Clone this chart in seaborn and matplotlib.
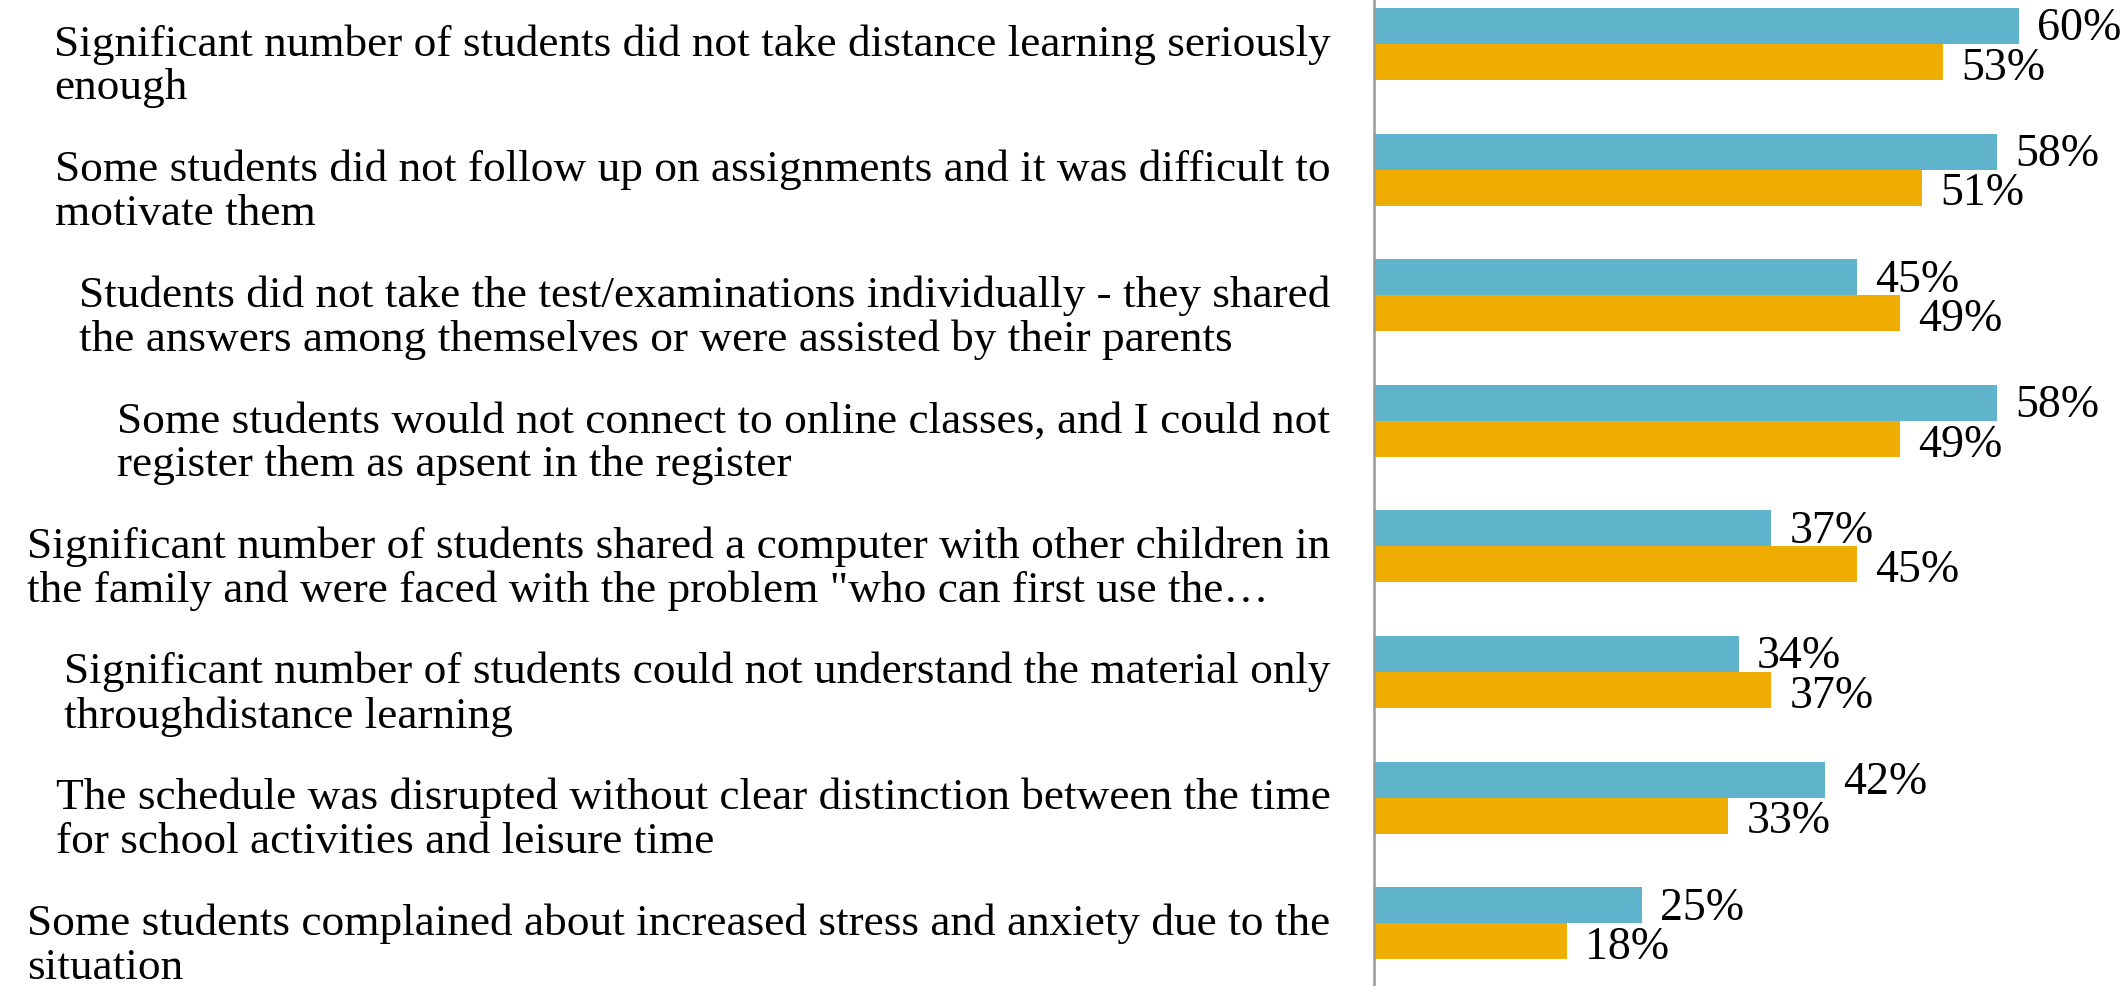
"""Problems with distance learning — grouped horizontal bars"""

import pandas as pd
import matplotlib
matplotlib.use('Agg')
import matplotlib.pyplot as plt
import matplotlib.transforms as mtransforms
import seaborn as sns


categories = [
    'Significant number of students did not take distance learning seriously\nenough',
    'Some students did not follow up on assignments and it was difficult to\nmotivate them',
    'Students did not take the test/examinations individually - they shared\nthe answers among themselves or were assisted by their parents',
    'Some students would not connect to online classes, and I could not\nregister them as apsent in the register',
    'Significant number of students shared a computer with other children in\nthe family and were faced with the problem "who can first use the\u2026',
    'Significant number of students could not understand the material only\nthroughdistance learning',
    'The schedule was disrupted without clear distinction between the time\nfor school activities and leisure time',
    'Some students complained about increased stress and anxiety due to the\nsituation',
]
series_names = ['Series 1', 'Series 2']
values_blue = [60, 58, 45, 58, 37, 34, 42, 25]
values_orange = [53, 51, 49, 49, 45, 37, 33, 18]
colors = ['#5FB4CC', '#EEAD00']

df = pd.DataFrame({
    'category': categories * 2,
    'series': [series_names[0]] * len(categories) + [series_names[1]] * len(categories),
    'value': values_blue + values_orange,
})

sns.set_style('white')
plt.rcParams['font.family'] = ['Liberation Serif', 'DejaVu Serif']

fig = plt.figure(figsize=(21.23, 9.87), dpi=100)
ax = fig.add_axes([1373.5 / 2123, 0, 1 - 1373.5 / 2123, 1])

sns.barplot(data=df, y='category', x='value', hue='series', palette=colors,
            orient='h', width=0.573, gap=0, legend=False, ax=ax, saturation=1,
            linewidth=0, edgecolor='none')

ax.set_xlim(0, 69.7)
ax.set_ylim(7.50, -0.358)
ax.set_xlabel(''); ax.set_ylabel('')
ax.set_xticks([])
ax.set_yticks([])
for s in ['top', 'right', 'bottom']:
    ax.spines[s].set_visible(False)
ax.spines['left'].set_color('#999999')
ax.spines['left'].set_linewidth(1.8)

for k, cont in enumerate(ax.containers):
    labs = ax.bar_label(cont, fmt='{:.0f}%', padding=13, fontsize=33, color='black')
    for t in labs:
        t.xyann = (13, -1.5 if k == 0 else -4)

# category labels: block right-aligned, lines left-aligned
trans = mtransforms.blended_transform_factory(ax.transAxes, ax.transData)
for i, lab in enumerate(categories):
    ax.text(-0.0574, i + 0.17, lab, transform=trans, ha='right', va='center',
            multialignment='left', fontsize=32.6, linespacing=1.12, color='black')

fig.savefig('out.png', dpi=100)
